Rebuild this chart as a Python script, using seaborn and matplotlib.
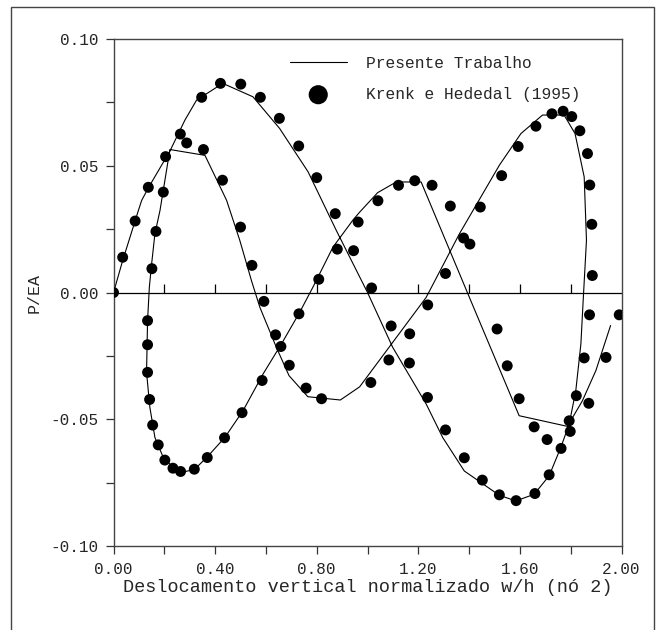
import numpy as np
import pandas as pd
import seaborn as sns
import matplotlib.pyplot as plt
from matplotlib.patches import Rectangle
from matplotlib.ticker import MultipleLocator, FormatStrFormatter

# Presente Trabalho (solid path, in drawing order)
line_x = [0.000, 0.036, 0.098, 0.111, 0.143, 0.222, 0.281, 0.327, 0.430, 0.549,
          0.654, 0.766, 0.877, 1.000, 1.099, 1.231, 1.296, 1.381, 1.519, 1.584,
          1.656, 1.715, 1.761, 1.794, 1.820, 1.840, 1.849, 1.862, 1.853, 1.817,
          1.774, 1.689, 1.604, 1.519, 1.362, 1.231, 0.969, 0.893, 0.765, 0.691,
          0.641, 0.576, 0.543, 0.497, 0.445, 0.360, 0.222, 0.183, 0.163, 0.150,
          0.141, 0.134, 0.130, 0.143, 0.163, 0.196, 0.235, 0.268, 0.320, 0.373,
          0.438, 0.510, 0.589, 0.661, 0.733, 0.785, 0.864, 0.942, 0.969, 1.040,
          1.113, 1.211, 1.401, 1.597, 1.787, 1.846, 1.899, 1.957]
line_y = [0.0000, 0.0126, 0.0324, 0.0364, 0.0423, 0.0558, 0.0680, 0.0759, 0.0825, 0.0772,
          0.0647, 0.0476, 0.0245, 0.0000, -0.0216, -0.0440, -0.0572, -0.0704, -0.0800, -0.0822,
          -0.0796, -0.0723, -0.0611, -0.0519, -0.0387, -0.0203, -0.0032, 0.0206, 0.0456, 0.0627,
          0.0700, 0.0700, 0.0627, 0.0502, 0.0232, -0.0019, -0.0372, -0.0424, -0.0411, -0.0328,
          -0.0216, -0.0058, 0.0047, 0.0206, 0.0364, 0.0541, 0.0564, 0.0324, 0.0232, 0.0113,
          0.0021, -0.0111, -0.0315, -0.0453, -0.0572, -0.0651, -0.0690, -0.0710, -0.0697, -0.0644,
          -0.0572, -0.0466, -0.0321, -0.0203, -0.0078, 0.0021, 0.0179, 0.0285, 0.0317, 0.0394,
          0.0436, 0.0436, -0.0019, -0.0486, -0.0528, -0.0427, -0.0308, -0.0130]

# Krenk e Hededal (1995)
ref_x = [0.000, 0.036, 0.085, 0.137, 0.205, 0.263, 0.288, 0.347, 0.421, 0.501,
         0.578, 0.653, 0.729, 0.800, 0.873, 0.945, 1.016,
         1.093, 1.165, 1.236, 1.307, 1.381, 1.452, 1.519, 1.585, 1.659, 1.715,
         1.762, 1.798, 1.822, 1.853, 1.874,
         1.885, 1.883, 1.875, 1.866, 1.836, 1.804, 1.770, 1.726, 1.663, 1.593,
         1.528, 1.444, 1.378, 1.403, 1.307,
         1.166, 1.084, 1.013, 0.819, 0.758, 0.692, 0.638, 0.592, 0.545, 0.500,
         0.429, 0.354,
         0.196, 0.167, 0.151, 0.134, 0.134, 0.134, 0.142, 0.154, 0.176, 0.202,
         0.234, 0.264, 0.318, 0.369, 0.437, 0.506, 0.585, 0.659, 0.730, 0.808,
         0.881, 0.963, 1.041, 1.122, 1.186, 1.254, 1.326, 1.237, 1.510, 1.550,
         1.597, 1.656, 1.707, 1.794, 1.871, 1.939, 1.991]
ref_y = [0.0000, 0.0139, 0.0282, 0.0415, 0.0536, 0.0625, 0.0590, 0.0770, 0.0825, 0.0822,
         0.0770, 0.0687, 0.0578, 0.0453, 0.0311, 0.0165, 0.0018,
         -0.0132, -0.0278, -0.0414, -0.0542, -0.0652, -0.0740, -0.0798, -0.0821, -0.0793, -0.0719,
         -0.0615, -0.0548, -0.0407, -0.0258, -0.0088,
         0.0067, 0.0269, 0.0424, 0.0548, 0.0638, 0.0694, 0.0715, 0.0705, 0.0656, 0.0576,
         0.0461, 0.0337, 0.0215, 0.0191, 0.0075,
         -0.0163, -0.0266, -0.0355, -0.0419, -0.0377, -0.0287, -0.0167, -0.0035, 0.0107, 0.0258,
         0.0443, 0.0564,
         0.0396, 0.0241, 0.0094, -0.0111, -0.0206, -0.0315, -0.0422, -0.0523, -0.0601, -0.0661,
         -0.0693, -0.0706, -0.0697, -0.0651, -0.0573, -0.0474, -0.0347, -0.0213, -0.0084, 0.0052,
         0.0171, 0.0278, 0.0362, 0.0423, 0.0441, 0.0423, 0.0341, -0.0049, -0.0144, -0.0289,
         -0.0419, -0.0530, -0.0580, -0.0506, -0.0437, -0.0256, -0.0088]

sns.set_style("ticks")
plt.rcParams['font.family'] = ['Liberation Mono', 'DejaVu Sans Mono']

fig = plt.figure(figsize=(6.57, 6.30), dpi=100)
ax = fig.add_axes([0.1728, 0.1333, 0.7732, 0.8048])

df_line = pd.DataFrame({"x": line_x, "y": line_y})
df_ref = pd.DataFrame({"x": ref_x, "y": ref_y})

sns.lineplot(data=df_line, x="x", y="y", sort=False, estimator=None, color="black",
             linewidth=0.8, label="Presente Trabalho", ax=ax)
sns.scatterplot(data=df_ref, x="x", y="y", color="black", s=62, edgecolor="none",
                label="Krenk e Hededal (1995)", ax=ax, zorder=3)

ax.set_xlim(0, 2.0)
ax.set_ylim(-0.10, 0.10)

# zero line with small upward ticks
ax.axhline(0, color="black", linewidth=0.9, zorder=1)
xt = np.arange(0.2, 2.0, 0.2)
ax.vlines(xt, 0, 0.0032, color="black", linewidth=0.9)

ax.xaxis.set_major_locator(MultipleLocator(0.4))
ax.xaxis.set_minor_locator(MultipleLocator(0.2))
ax.yaxis.set_major_locator(MultipleLocator(0.05))
ax.yaxis.set_minor_locator(MultipleLocator(0.025))
ax.xaxis.set_major_formatter(FormatStrFormatter("%.2f"))
ax.yaxis.set_major_formatter(FormatStrFormatter("%.2f"))
ax.tick_params(which="both", direction="out", length=5.8, width=0.9, color="#333333",
               labelsize=11.5, pad=5)
ax.tick_params(axis="x", which="both", pad=6)

for sp in ax.spines.values():
    sp.set_visible(True)
    sp.set_color("#444444")
    sp.set_linewidth(1.0)

ax.set_xlabel("Deslocamento vertical normalizado w/h (nó 2)", fontsize=13.3, labelpad=1)
ax.set_ylabel("P/EA", fontsize=12, labelpad=6)

ax.legend(loc="upper left", bbox_to_anchor=(0.347, 0.967), frameon=False,
          fontsize=11.7, handlelength=3.5, handletextpad=1.2, labelspacing=1.0,
          borderpad=0, borderaxespad=0, markerscale=1.75)

fig.add_artist(Rectangle((0.0167, -0.05), 0.9787, 1.039, transform=fig.transFigure,
                         fill=False, linewidth=1.0, edgecolor="#444444"))

fig.savefig("out.png", dpi=100)
